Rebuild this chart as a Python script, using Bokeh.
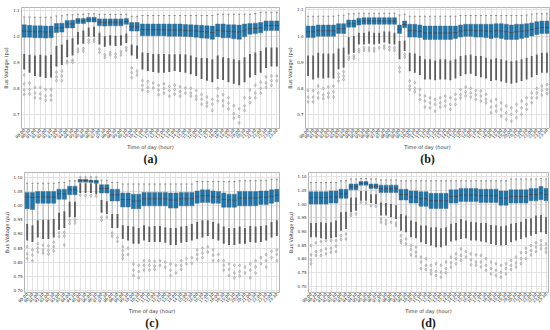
from math import pi
from bokeh.plotting import figure
from bokeh.layouts import column, row
from bokeh.models import Range1d, FixedTicker, PrintfTickFormatter, Title
from bokeh.embed import file_html
from bokeh.resources import INLINE

time_labels = ["00:00", "00:30", "01:00", "01:30", "02:00", "02:30", "03:00", "03:30",
               "04:00", "04:30", "05:00", "05:30", "06:00", "06:30", "07:00", "07:30",
               "08:00", "08:30", "09:00", "09:30", "10:00", "10:30", "11:00", "11:30",
               "12:00", "12:30", "13:00", "13:30", "14:00", "14:30", "15:00", "15:30",
               "16:00", "16:30", "17:00", "17:30", "18:00", "18:30", "19:00", "19:30",
               "20:00", "20:30", "21:00", "21:30", "22:00", "22:30", "23:00", "23:30"]

# ---------------- panel (a) ----------------
q3_a = [1.046, 1.044, 1.042, 1.042, 1.041, 1.041, 1.051, 1.052, 1.063, 1.064, 1.070, 1.070,
        1.075, 1.075, 1.069, 1.069, 1.069, 1.069, 1.069, 1.070, 1.055, 1.055,
        1.049, 1.049, 1.049, 1.049, 1.049, 1.049, 1.049, 1.049, 1.047, 1.046, 1.045, 1.044, 1.042, 1.041,
        1.049, 1.049, 1.046, 1.046, 1.045, 1.049, 1.051, 1.052, 1.055, 1.061, 1.061, 1.061]
q1_a = [0.998, 0.998, 0.996, 0.996, 0.995, 0.996, 1.016, 1.018, 1.034, 1.034, 1.051, 1.051,
        1.057, 1.057, 1.042, 1.041, 1.042, 1.042, 1.042, 1.048, 1.022, 1.022,
        1.004, 1.004, 1.004, 1.004, 1.004, 1.002, 1.002, 1.002, 1.001, 1.000, 0.998, 0.995, 0.994, 0.990,
        1.000, 0.996, 0.996, 0.992, 0.990, 1.000, 1.010, 1.012, 1.015, 1.024, 1.024, 1.024]
med_a = [1.022, 1.021, 1.019, 1.019, 1.018, 1.018, 1.034, 1.035, 1.049, 1.049, 1.061, 1.061,
         1.066, 1.066, 1.056, 1.055, 1.056, 1.056, 1.056, 1.059, 1.039, 1.039,
         1.027, 1.027, 1.027, 1.027, 1.027, 1.026, 1.026, 1.026, 1.024, 1.023, 1.022, 1.020, 1.018, 1.016,
         1.025, 1.022, 1.021, 1.019, 1.018, 1.025, 1.031, 1.032, 1.035, 1.043, 1.043, 1.043]
hi_a = [1.076, 1.076, 1.075, 1.075, 1.075, 1.075, 1.080, 1.081, 1.085, 1.085, 1.087, 1.087,
        1.089, 1.089, 1.087, 1.086, 1.086, 1.086, 1.086, 1.087, 1.079, 1.079,
        1.082, 1.082, 1.082, 1.082, 1.082, 1.082, 1.082, 1.082, 1.082, 1.082, 1.082, 1.082, 1.082, 1.082,
        1.087, 1.087, 1.087, 1.087, 1.087, 1.087, 1.087, 1.090, 1.095, 1.095, 1.095, 1.095]
dtop_a = [0.933, 0.930, 0.927, 0.930, 0.927, 0.930, 0.964, 0.970, 0.988, 0.994, 1.018, 1.024,
          1.036, 1.039, 1.015, 1.002, 1.006, 1.004, 1.006, 1.012, 0.970, 0.966,
          0.939, 0.937, 0.933, 0.933, 0.933, 0.932, 0.932, 0.932, 0.931, 0.927, 0.921, 0.918, 0.918, 0.913,
          0.927, 0.921, 0.918, 0.913, 0.909, 0.921, 0.933, 0.939, 0.945, 0.958, 0.958, 0.958]
dbot_a = [0.873, 0.861, 0.848, 0.845, 0.840, 0.842, 0.885, 0.891, 0.921, 0.927, 0.970, 0.973,
          1.000, 1.000, 0.970, 0.961, 0.966, 0.964, 0.966, 0.976, 0.927, 0.915,
          0.873, 0.867, 0.864, 0.861, 0.861, 0.864, 0.867, 0.864, 0.861, 0.855, 0.848, 0.836, 0.830, 0.824,
          0.836, 0.833, 0.824, 0.818, 0.812, 0.824, 0.842, 0.852, 0.861, 0.879, 0.885, 0.885]
out_a = [[0.852, 0.818, 0.794, 0.776], [0.821, 0.796, 0.778], [0.804, 0.782, 0.764], [0.804, 0.779, 0.761],
         [0.796, 0.770, 0.754], [0.796, 0.773, 0.755], [0.863, 0.845, 0.830], [0.867, 0.848, 0.830],
         [0.906, 0.899], [0.909, 0.901], [0.952, 0.942], [0.954, 0.944], [0.988, 0.978], [0.990, 0.982],
         [0.952, 0.939], [0.930, 0.920], [0.939, 0.930], [0.933, 0.921], [0.942, 0.930], [0.958, 0.948],
         [0.879, 0.861, 0.842], [0.867, 0.852], [0.830, 0.812, 0.794], [0.827, 0.804, 0.788],
         [0.821, 0.802], [0.812, 0.794, 0.776], [0.818, 0.800, 0.782], [0.808, 0.792, 0.770],
         [0.812, 0.796, 0.778], [0.806, 0.788, 0.770], [0.802, 0.782], [0.800, 0.782, 0.770],
         [0.792, 0.770, 0.758], [0.776, 0.758, 0.739], [0.767, 0.745, 0.731], [0.758, 0.739, 0.715],
         [0.800, 0.770, 0.752], [0.776, 0.752, 0.733], [0.764, 0.743, 0.721], [0.733, 0.703, 0.685],
         [0.721, 0.691, 0.667], [0.764, 0.733, 0.715], [0.794, 0.764, 0.745], [0.812, 0.782, 0.764],
         [0.824, 0.800, 0.782], [0.845, 0.821, 0.804], [0.848, 0.830, 0.812], [0.848, 0.830]]

# ---------------- panel (b) ----------------
q3_b = [1.038, 1.038, 1.042, 1.042, 1.042, 1.042, 1.047, 1.047, 1.061, 1.061,
        1.068, 1.070, 1.070, 1.070, 1.070, 1.070, 1.070, 1.070, 1.042, 1.057,
        1.045, 1.045, 1.042, 1.038, 1.038, 1.038, 1.038, 1.038, 1.038, 1.038,
        1.042, 1.045, 1.045, 1.045, 1.045, 1.045, 1.045, 1.047, 1.047, 1.045,
        1.042, 1.045, 1.045, 1.047, 1.050, 1.055, 1.057, 1.057]
q1_b = [0.994, 0.994, 0.999, 0.999, 0.999, 0.999, 1.010, 1.010, 1.034, 1.034,
        1.042, 1.045, 1.045, 1.045, 1.045, 1.045, 1.045, 1.045, 1.010, 1.032,
        0.996, 0.996, 0.994, 0.987, 0.987, 0.987, 0.987, 0.987, 0.987, 0.991,
        0.996, 0.999, 0.999, 0.996, 0.996, 0.994, 0.991, 0.994, 0.991, 0.987,
        0.987, 0.987, 0.991, 0.994, 1.000, 1.006, 1.010, 1.010]
med_b = [1.016, 1.016, 1.020, 1.020, 1.020, 1.020, 1.028, 1.028, 1.047, 1.047,
         1.055, 1.057, 1.057, 1.057, 1.057, 1.057, 1.057, 1.057, 1.026, 1.044,
         1.020, 1.020, 1.018, 1.012, 1.012, 1.012, 1.012, 1.012, 1.012, 1.014,
         1.019, 1.022, 1.022, 1.020, 1.020, 1.019, 1.018, 1.020, 1.019, 1.016,
         1.014, 1.016, 1.018, 1.020, 1.025, 1.030, 1.033, 1.033]
hi_b = [1.076, 1.076, 1.076, 1.076, 1.076, 1.076, 1.079, 1.079, 1.085, 1.085,
        1.087, 1.087, 1.087, 1.087, 1.087, 1.087, 1.087, 1.087, 1.080, 1.083,
        1.076, 1.076, 1.076, 1.076, 1.076, 1.076, 1.076, 1.076, 1.076, 1.076,
        1.078, 1.078, 1.078, 1.078, 1.078, 1.078, 1.078, 1.078, 1.078, 1.078,
        1.078, 1.078, 1.078, 1.080, 1.083, 1.085, 1.085, 1.085]
dtop_b = [0.926, 0.926, 0.936, 0.933, 0.933, 0.933, 0.952, 0.955, 0.996, 1.000,
          1.013, 1.013, 1.017, 1.013, 1.013, 1.017, 1.017, 1.013, 0.981, 0.983,
          0.936, 0.933, 0.924, 0.911, 0.911, 0.907, 0.911, 0.911, 0.907, 0.911,
          0.924, 0.927, 0.930, 0.924, 0.924, 0.917, 0.911, 0.915, 0.911, 0.907,
          0.904, 0.907, 0.911, 0.917, 0.924, 0.930, 0.936, 0.936]
dbot_b = [0.847, 0.834, 0.841, 0.838, 0.841, 0.838, 0.873, 0.879, 0.930, 0.936,
          0.968, 0.968, 0.971, 0.968, 0.971, 0.975, 0.971, 0.968, 0.911, 0.943,
          0.866, 0.860, 0.851, 0.834, 0.834, 0.831, 0.834, 0.834, 0.831, 0.838,
          0.847, 0.854, 0.856, 0.847, 0.843, 0.838, 0.828, 0.831, 0.826, 0.822,
          0.818, 0.822, 0.828, 0.834, 0.843, 0.851, 0.860, 0.860]
out_b = [[0.792, 0.767, 0.749], [0.792, 0.767, 0.749], [0.809, 0.783, 0.764], [0.800, 0.775, 0.761],
         [0.805, 0.782, 0.767], [0.809, 0.787, 0.767], [0.856, 0.843, 0.828], [0.864, 0.847, 0.834],
         [0.920, 0.911], [0.924, 0.915], [0.949, 0.940], [0.955, 0.945], [0.955, 0.945], [0.953, 0.943],
         [0.955], [0.962, 0.953], [0.958, 0.948], [0.955, 0.945], [0.879, 0.864], [0.930, 0.920],
         [0.828, 0.809, 0.796], [0.822, 0.800, 0.787], [0.796, 0.775, 0.758], [0.771, 0.752, 0.729],
         [0.764, 0.745, 0.726], [0.758, 0.739, 0.713], [0.764, 0.745, 0.729], [0.771, 0.752, 0.733],
         [0.764, 0.739, 0.720], [0.777, 0.758, 0.739], [0.796, 0.777, 0.764], [0.805, 0.787, 0.771],
         [0.800, 0.783, 0.767], [0.792, 0.775, 0.758], [0.790, 0.771, 0.752], [0.777, 0.758, 0.745],
         [0.752, 0.729, 0.707], [0.758, 0.733, 0.713], [0.745, 0.720, 0.694], [0.733, 0.707, 0.682],
         [0.726, 0.701, 0.675], [0.739, 0.713, 0.688], [0.752, 0.726, 0.701], [0.764, 0.739, 0.720],
         [0.783, 0.764, 0.745], [0.800, 0.783, 0.764], [0.809, 0.792, 0.775], [0.815, 0.796, 0.780]]

# ---------------- panel (c) ----------------
q3_c = [1.046, 1.046, 1.049, 1.049, 1.049, 1.049, 1.057, 1.057, 1.068, 1.068,
        1.092, 1.092, 1.089, 1.089, 1.073, 1.073, 1.057, 1.057, 1.044, 1.044, 1.040, 1.040,
        1.046, 1.046, 1.046, 1.046, 1.046, 1.044, 1.044, 1.046, 1.046, 1.046,
        1.051, 1.055, 1.055, 1.051, 1.049, 1.044, 1.040, 1.040,
        1.049, 1.049, 1.049, 1.049, 1.051, 1.051, 1.055, 1.057]
q1_c = [0.989, 0.986, 1.008, 1.008, 1.008, 1.008, 1.022, 1.022, 1.038, 1.038,
        1.082, 1.082, 1.081, 1.078, 1.044, 1.044, 1.016, 1.016, 0.995, 0.995, 0.989, 0.989,
        0.999, 0.999, 0.999, 0.999, 0.999, 0.991, 0.991, 0.999, 0.999, 0.999,
        1.008, 1.011, 1.011, 1.008, 1.008, 0.994, 0.994, 0.994,
        0.999, 0.999, 0.999, 0.999, 1.004, 1.004, 1.008, 1.013]
med_c = [1.030, 1.028, 1.030, 1.030, 1.030, 1.030, 1.041, 1.041, 1.055, 1.055,
         1.088, 1.088, 1.086, 1.085, 1.060, 1.060, 1.038, 1.038, 1.021, 1.021, 1.016, 1.016,
         1.024, 1.024, 1.024, 1.024, 1.024, 1.019, 1.019, 1.024, 1.024, 1.024,
         1.031, 1.034, 1.034, 1.031, 1.030, 1.021, 1.019, 1.019,
         1.026, 1.026, 1.026, 1.026, 1.029, 1.029, 1.033, 1.036]
hi_c = [1.078, 1.078, 1.078, 1.078, 1.078, 1.078, 1.081, 1.081, 1.087, 1.087,
        1.100, 1.100, 1.100, 1.100, 1.089, 1.089, 1.081, 1.081,
        1.076, 1.076, 1.076, 1.076, 1.076, 1.076, 1.076, 1.076, 1.076, 1.076, 1.076, 1.076, 1.076, 1.076,
        1.084, 1.084, 1.084, 1.084, 1.084, 1.084, 1.084, 1.084,
        1.087, 1.087, 1.087, 1.087, 1.089, 1.089, 1.092, 1.092]
dtop_c = [0.935, 0.931, 0.948, 0.950, 0.950, 0.953, 0.975, 0.980, 1.013, 1.013,
          1.078, 1.078, 1.078, 1.078, 1.019, 1.015, 0.970, 0.970, 0.931, 0.928, 0.926, 0.921,
          0.931, 0.926, 0.928, 0.928, 0.924, 0.921, 0.921, 0.926, 0.928, 0.935,
          0.942, 0.948, 0.948, 0.942, 0.937, 0.926, 0.921, 0.921,
          0.926, 0.921, 0.928, 0.926, 0.928, 0.931, 0.942, 0.948]
dbot_c = [0.877, 0.872, 0.888, 0.882, 0.882, 0.888, 0.915, 0.921, 0.959, 0.959,
          1.044, 1.044, 1.044, 1.040, 0.975, 0.970, 0.921, 0.921, 0.882, 0.877, 0.866, 0.866,
          0.877, 0.872, 0.872, 0.872, 0.869, 0.861, 0.861, 0.869, 0.872, 0.877,
          0.882, 0.888, 0.893, 0.882, 0.877, 0.866, 0.861, 0.861,
          0.866, 0.866, 0.872, 0.869, 0.872, 0.877, 0.888, 0.893]
out_c = [[0.855, 0.830, 0.814], [0.844, 0.826, 0.806], [0.866, 0.850, 0.837], [0.861, 0.844, 0.833],
         [0.858, 0.843, 0.830], [0.871, 0.855, 0.841], [0.904, 0.891], [0.906, 0.893, 0.861],
         [0.948, 0.937], [0.950, 0.939], [1.037], [1.035], [1.035], [1.033],
         [0.959, 0.948], [0.959], [0.904, 0.893], [0.888, 0.874],
         [0.855, 0.841, 0.826, 0.814], [0.850, 0.828], [0.795, 0.773, 0.754], [0.790, 0.768, 0.746],
         [0.806, 0.790, 0.773], [0.806, 0.790, 0.773], [0.804, 0.787, 0.776], [0.806, 0.790],
         [0.801, 0.784], [0.795, 0.773, 0.754], [0.790, 0.763], [0.806, 0.790, 0.776],
         [0.814, 0.795], [0.817, 0.797], [0.844, 0.828, 0.812], [0.850, 0.833, 0.817],
         [0.855, 0.837], [0.844, 0.826, 0.806], [0.828, 0.806], [0.806, 0.790, 0.773],
         [0.795, 0.776, 0.754], [0.790, 0.763, 0.746], [0.790, 0.768, 0.752], [0.784, 0.763],
         [0.795, 0.773, 0.746], [0.806, 0.784, 0.763], [0.817, 0.795], [0.828, 0.806, 0.784],
         [0.839, 0.817], [0.844, 0.828, 0.806]]

# ---------------- panel (d) ----------------
q3_d = [1.045, 1.045, 1.045, 1.045, 1.048, 1.048, 1.054, 1.054, 1.073, 1.073, 1.082, 1.082,
        1.073, 1.073, 1.069, 1.069, 1.069, 1.069, 1.054, 1.054, 1.048, 1.048, 1.045, 1.045,
        1.039, 1.039, 1.039, 1.039, 1.052, 1.052, 1.057, 1.057, 1.057, 1.057, 1.054, 1.054,
        1.054, 1.054, 1.048, 1.048, 1.052, 1.052, 1.052, 1.052, 1.057, 1.057, 1.064, 1.057]
q1_d = [1.000, 1.000, 1.000, 1.000, 1.004, 1.004, 1.021, 1.021, 1.052, 1.052, 1.069, 1.069,
        1.057, 1.057, 1.042, 1.042, 1.042, 1.042, 1.015, 1.015, 1.004, 1.004, 0.992, 0.992,
        0.984, 0.984, 0.984, 0.984, 1.004, 1.004, 1.009, 1.009, 1.009, 1.009, 1.006, 1.006,
        1.006, 1.006, 0.996, 0.996, 1.004, 1.004, 1.004, 1.004, 1.012, 1.012, 1.016, 1.012]
med_d = [1.023, 1.023, 1.023, 1.023, 1.026, 1.026, 1.038, 1.038, 1.063, 1.063, 1.076, 1.076,
         1.065, 1.065, 1.056, 1.056, 1.056, 1.056, 1.035, 1.035, 1.026, 1.026, 1.019, 1.019,
         1.012, 1.012, 1.012, 1.012, 1.028, 1.028, 1.033, 1.033, 1.033, 1.033, 1.030, 1.030,
         1.030, 1.030, 1.022, 1.022, 1.028, 1.028, 1.028, 1.028, 1.035, 1.035, 1.040, 1.035]
hi_d = [1.079, 1.079, 1.079, 1.079, 1.079, 1.079, 1.085, 1.085, 1.091, 1.091, 1.093, 1.093,
        1.091, 1.091, 1.088, 1.088, 1.088, 1.088, 1.085, 1.085, 1.085, 1.085, 1.085, 1.085,
        1.085, 1.085, 1.085, 1.085, 1.085, 1.085, 1.085, 1.085, 1.085, 1.085, 1.085, 1.085,
        1.085, 1.085, 1.085, 1.085, 1.091, 1.091, 1.091, 1.091, 1.091, 1.091, 1.093, 1.091]
dtop_d = [0.931, 0.931, 0.934, 0.931, 0.934, 0.940, 0.970, 0.972, 1.024, 1.024, 1.048, 1.048,
          1.036, 1.036, 1.006, 1.004, 1.000, 0.996, 0.964, 0.958, 0.940, 0.936, 0.922, 0.922,
          0.916, 0.916, 0.912, 0.916, 0.928, 0.931, 0.946, 0.940, 0.936, 0.934, 0.931, 0.931,
          0.924, 0.922, 0.919, 0.922, 0.928, 0.931, 0.936, 0.946, 0.948, 0.958, 0.960, 0.952]
dbot_d = [0.879, 0.879, 0.876, 0.873, 0.876, 0.879, 0.903, 0.909, 0.970, 0.976, 1.012, 1.012,
          1.004, 1.000, 0.958, 0.958, 0.952, 0.946, 0.903, 0.897, 0.879, 0.876, 0.861, 0.855,
          0.849, 0.843, 0.843, 0.849, 0.864, 0.867, 0.873, 0.876, 0.867, 0.867, 0.864, 0.861,
          0.855, 0.851, 0.849, 0.851, 0.861, 0.867, 0.873, 0.879, 0.885, 0.891, 0.897, 0.891]
out_d = [[0.849, 0.815, 0.797, 0.783], [0.859, 0.827, 0.813], [0.864, 0.831, 0.813], [0.867, 0.837, 0.819],
         [0.867, 0.839, 0.825], [0.867, 0.847, 0.827], [0.885, 0.871], [0.891, 0.873],
         [0.964, 0.958], [0.964], [1.006], [1.004], [0.994], [0.992],
         [0.946, 0.934], [0.940, 0.928], [0.934], [0.931, 0.922], [0.885, 0.867, 0.859], [0.873, 0.855],
         [0.849, 0.835, 0.815], [0.843, 0.825, 0.810], [0.807, 0.789, 0.765], [0.801, 0.777, 0.762],
         [0.777, 0.759, 0.746], [0.783, 0.755, 0.740], [0.777, 0.752, 0.734], [0.789, 0.765, 0.750],
         [0.807, 0.786, 0.771], [0.819, 0.801, 0.783], [0.837, 0.813, 0.795], [0.827, 0.807],
         [0.819, 0.797, 0.779], [0.815, 0.789, 0.777], [0.813, 0.789, 0.771], [0.801, 0.777, 0.759],
         [0.789, 0.765, 0.746], [0.783, 0.759, 0.740], [0.777, 0.752, 0.734], [0.783, 0.765, 0.746],
         [0.795, 0.777, 0.762], [0.807, 0.786, 0.771], [0.823, 0.801, 0.783], [0.839, 0.823, 0.801],
         [0.849, 0.831, 0.815], [0.859, 0.843, 0.827], [0.867, 0.851, 0.837], [0.855, 0.839, 0.825]]

yticks_ab = [0.7, 0.8, 0.9, 1.0, 1.1]
yticks_cd = [0.70, 0.75, 0.80, 0.85, 0.90, 0.95, 1.00, 1.05, 1.10]

BOX = "#1a76ad"
FONT = "DejaVu Sans"


def panel(q1, med, q3, hi, dtop, dbot, outs, yr, yticks, fmt, letter,
          w, h, bl, br, bt, bb):
    p = figure(x_range=time_labels, y_range=Range1d(yr[0], yr[1]), width=w, height=h,
               output_backend="svg", toolbar_location=None,
               min_border_left=bl, min_border_right=br, min_border_top=bt, min_border_bottom=bb)
    p.outline_line_color = "#b5b5b5"
    p.outline_line_width = 1
    p.xgrid.grid_line_color = "#e3e3e3"
    p.ygrid.grid_line_color = "#e3e3e3"
    p.ygrid.ticker = FixedTicker(ticks=yticks)
    p.yaxis.ticker = FixedTicker(ticks=yticks)
    p.yaxis.formatter = PrintfTickFormatter(format=fmt)
    for ax in (p.xaxis[0], p.yaxis[0]):
        ax.axis_line_color = None
        ax.major_tick_line_color = None
        ax.minor_tick_line_color = None
        ax.major_tick_out = 0
        ax.major_tick_in = 0
        ax.major_label_text_font = FONT
        ax.major_label_text_color = "#333333"
        ax.axis_label_text_font = FONT
        ax.axis_label_text_font_size = "5px"
        ax.axis_label_text_font_style = "normal"
        ax.axis_label_text_color = "#333333"
    p.yaxis.major_label_text_font_size = "4px"
    p.yaxis.major_label_standoff = 2
    p.yaxis.axis_label_standoff = 1
    p.xaxis.major_label_text_font_size = "4px"
    p.xaxis.major_label_standoff = 1
    p.xaxis.axis_label_standoff = 0
    p.xaxis.major_label_orientation = pi / 4
    p.xaxis.axis_label = "Time of day (hour)"
    p.yaxis.axis_label = "Bus Voltage (pu)"

    # whiskers
    p.segment(x0=time_labels, y0=q3, x1=time_labels, y1=hi, line_color="#a5a5a5", line_width=0.8)
    p.segment(x0=time_labels, y0=q1, x1=time_labels, y1=dtop, line_color="#a5a5a5", line_width=0.8)
    p.rect(x=time_labels, y=hi, width=0.38, height=1, height_units="screen",
           fill_color="#8a8a8a", line_color=None)
    # dense outlier band
    p.vbar(x=time_labels, width=0.36, top=dtop, bottom=dbot,
           fill_color="#2e2e2e", line_color=None, fill_alpha=0.75)
    # sparse outliers
    ox = [time_labels[i] for i, vals in enumerate(outs) for _ in vals]
    oy = [v for vals in outs for v in vals]
    p.scatter(x=ox, y=oy, marker="diamond", size=3.2, fill_color="#cccccc",
              line_color="#939393", line_width=0.5)
    # boxes
    p.vbar(x=time_labels, width=0.78, top=q3, bottom=q1, fill_color=BOX,
           line_color="#4a6a80", line_width=0.5)
    p.rect(x=time_labels, y=med, width=0.78, height=1, height_units="screen",
           fill_color="#3d4f5c", line_color=None)

    p.add_layout(Title(text=letter, align="center", text_font="Liberation Serif",
                       text_font_size="12px", text_font_style="bold",
                       text_color="#1a1a1a", standoff=-8), "below")
    return p


pa = panel(q1_a, med_a, q3_a, hi_a, dtop_a, dbot_a, out_a, (0.645, 1.113), yticks_ab, "%.1f",
           "(a)", 284, 165, 16, 5, 2, 34)
pb = panel(q1_b, med_b, q3_b, hi_b, dtop_b, dbot_b, out_b, (0.647, 1.109), yticks_ab, "%.1f",
           "(b)", 266, 165, 15, 1, 7, 37)
pc = panel(q1_c, med_c, q3_c, hi_c, dtop_c, dbot_c, out_c, (0.6945, 1.116), yticks_cd, "%.2f",
           "(c)", 284, 165, 16, 5, 2, 34)
pd = panel(q1_d, med_d, q3_d, hi_d, dtop_d, dbot_d, out_d, (0.678, 1.115), yticks_cd, "%.2f",
           "(d)", 266, 165, 19, 2, 7, 38)

layout = column(row(pa, pb, spacing=0), row(pc, pd, spacing=0), spacing=0)

open("out.html", "w").write(file_html(layout, INLINE))
